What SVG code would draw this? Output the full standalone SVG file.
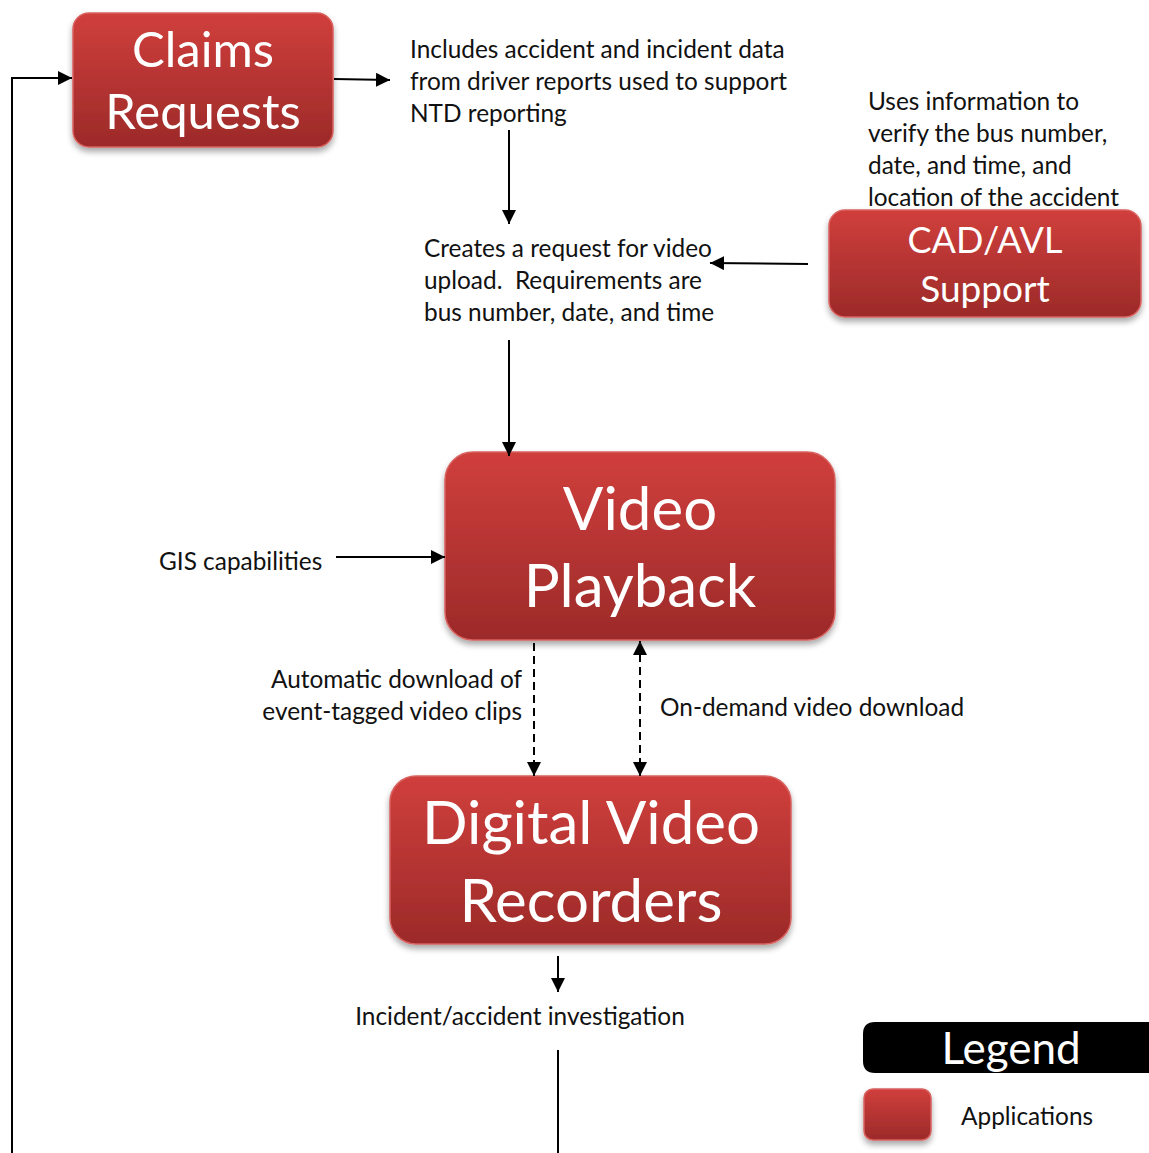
<svg xmlns="http://www.w3.org/2000/svg" width="1149" height="1153" viewBox="0 0 1149 1153">
  <defs>
    <linearGradient id="appFill" x1="0" y1="0" x2="0" y2="1">
      <stop offset="0" stop-color="#d03f3c"/>
      <stop offset="1" stop-color="#9c2a29"/>
    </linearGradient>
    <filter id="shadow" x="-10%" y="-10%" width="120%" height="130%">
      <feGaussianBlur in="SourceAlpha" stdDeviation="3"/>
      <feOffset dx="0" dy="4" result="b"/>
      <feComponentTransfer><feFuncA type="linear" slope="0.35"/></feComponentTransfer>
      <feMerge><feMergeNode/><feMergeNode in="SourceGraphic"/></feMerge>
    </filter>
    <marker id="arrow" viewBox="0 0 10 10" refX="10" refY="5" markerWidth="7" markerHeight="7" markerUnits="strokeWidth" orient="auto-start-reverse">
      <path d="M0,0 L10,5 L0,10 z" fill="#000"/>
    </marker>
  </defs>
  <style>
    .app { fill: url(#appFill); stroke: #d8625f; stroke-width: 1.5; filter: url(#shadow); }
    .appText { font-family: Lato, "Open Sans", "Liberation Sans", sans-serif; fill: #fff; text-anchor: middle; }
    .label { font-family: Lato, "Open Sans", "Liberation Sans", sans-serif; font-size: 24.4px; fill: #111; white-space: pre; }
    .link { stroke: #000; stroke-width: 2; fill: none; }
    .dash { stroke-dasharray: 8 5; }
  </style>
  <rect width="1149" height="1153" fill="#fff"/>

  <!-- labels -->
  <g id="labels">
    <text class="label" x="410" y="58">Includes accident and incident data</text>
    <text class="label" x="410" y="90">from driver reports used to support</text>
    <text class="label" x="410" y="122">NTD reporting</text>
    <text class="label" x="424" y="257">Creates a request for video</text>
    <text class="label" x="424" y="289" xml:space="preserve">upload.  Requirements are</text>
    <text class="label" x="424" y="321">bus number, date, and time</text>
    <text class="label" x="868" y="110">Uses information to</text>
    <text class="label" x="868" y="142">verify the bus number,</text>
    <text class="label" x="868" y="174">date, and time, and</text>
    <text class="label" x="868" y="206">location of the accident</text>
    <text class="label" x="159" y="570">GIS capabilities</text>
    <text class="label" x="522" y="688" text-anchor="end">Automatic download of</text>
    <text class="label" x="522" y="720" text-anchor="end">event-tagged video clips</text>
    <text class="label" x="660" y="716">On-demand video download</text>
    <text class="label" x="520" y="1025" text-anchor="middle">Incident/accident investigation</text>
  </g>

  <!-- nodes -->
  <g id="claims-requests">
    <rect class="app" x="73" y="13" width="260" height="134" rx="16"/>
    <text class="appText" x="203" y="67" font-size="49">Claims</text>
    <text class="appText" x="203" y="129" font-size="49">Requests</text>
  </g>

  <g id="cad-avl-support">
    <rect class="app" x="829" y="210" width="312" height="107" rx="16"/>
    <text class="appText" x="985" y="253" font-size="36">CAD/AVL</text>
    <text class="appText" x="985" y="302" font-size="37">Support</text>
  </g>

  <g id="video-playback">
    <rect class="app" x="445" y="452" width="390" height="188" rx="28"/>
    <text class="appText" x="640" y="530" font-size="60">Video</text>
    <text class="appText" x="640" y="607" font-size="60">Playback</text>
  </g>

  <g id="digital-video-recorders">
    <rect class="app" x="390" y="776" width="401" height="168" rx="26"/>
    <text class="appText" x="591" y="844" font-size="60">Digital Video</text>
    <text class="appText" x="591" y="922" font-size="60">Recorders</text>
  </g>

  <!-- connectors -->
  <g id="connectors">
    <polyline class="link" points="12,1153 12,78 72,78" marker-end="url(#arrow)"/>
    <line class="link" x1="334" y1="79" x2="390" y2="80" marker-end="url(#arrow)"/>
    <line class="link" x1="509" y1="130" x2="509" y2="224" marker-end="url(#arrow)"/>
    <line class="link" x1="808" y1="264" x2="710" y2="263" marker-end="url(#arrow)"/>
    <line class="link" x1="509" y1="340" x2="509" y2="456" marker-end="url(#arrow)"/>
    <line class="link" x1="336" y1="557" x2="445" y2="557" marker-end="url(#arrow)"/>
    <line class="link dash" x1="534" y1="643" x2="534" y2="776" marker-end="url(#arrow)"/>
    <line class="link dash" x1="640" y1="641" x2="640" y2="776" marker-start="url(#arrow)" marker-end="url(#arrow)"/>
    <line class="link" x1="558" y1="956" x2="558" y2="992" marker-end="url(#arrow)"/>
    <line class="link" x1="558" y1="1050" x2="558" y2="1153"/>
  </g>

  <!-- legend -->
  <g id="legend">
    <path d="M875,1022 H1149 V1073 H875 Q863,1073 863,1061 V1034 Q863,1022 875,1022 Z" fill="#000"/>
    <text class="appText" x="1011" y="1064" font-size="44">Legend</text>
    <rect class="app" x="864" y="1089" width="67" height="51" rx="9"/>
    <text class="label" x="961" y="1125">Applications</text>
  </g>
</svg>
